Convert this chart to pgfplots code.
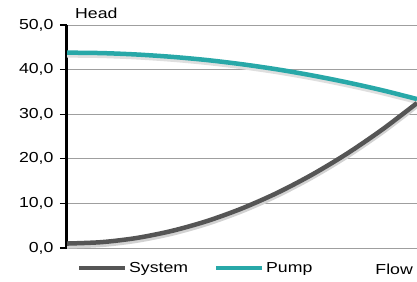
\documentclass[border=0pt]{standalone}
\usepackage{fontspec}
\setmainfont[FakeStretch=1.22]{Liberation Sans}
\usepackage{pgfplots}
\pgfplotsset{compat=1.18}
\definecolor{sysc}{RGB}{85,85,85}
\definecolor{pumpc}{RGB}{40,168,168}
\newcommand{\cf}{\fontsize{14.5bp}{17bp}\selectfont}
\begin{document}
\begin{tikzpicture}
\useasboundingbox (-67bp,-34bp) rectangle (350bp,248bp);
\begin{axis}[
  at={(0,0)}, anchor=south west,
  scale only axis, width=350bp, height=223bp,
  xmin=0, xmax=100, ymin=0, ymax=50,
  axis lines*=left,
  x axis line style={draw=none},
  y axis line style={black, line width=1.6pt},
  ytick={0,10,20,30,40,50},
  xtick=\empty,
  tick align=outside,
  major tick length=7bp,
  ytick style={black, line width=1.2pt},
  ymajorgrids,
  grid style={gray!75, line width=0.8pt},
  yticklabel style={font=\cf, /pgf/number format/assume math mode=true, xshift=-3bp},
  /pgf/number format/.cd, fixed, fixed zerofill, precision=1, use comma,
  /pgfplots/.cd,
  clip=false,
  legend columns=2,
  legend style={draw=none, fill=none, font=\cf, at={(rel axis cs:0.0,0)}, anchor=north west, yshift=-10bp, xshift=7bp,
    /tikz/every even column/.append style={column sep=24bp}},
  legend image code/.code={\draw[#1, line width=4bp] (0bp,0bp) -- (46bp,0bp);},
]
\addplot[gray!35, line width=5bp, forget plot, yshift=-2.5bp, smooth] coordinates {
(0,1.0) (10,1.32) (20,2.26) (30,3.84) (40,6.04) (50,8.88) (60,12.34) (70,16.44) (80,21.16) (90,26.52) (100,32.5)};
\addplot[gray!25, line width=5bp, forget plot, yshift=-2.5bp, smooth] coordinates {
(0,43.8) (10,43.7) (20,43.38) (30,42.86) (40,42.14) (50,41.2) (60,40.06) (70,38.7) (80,37.14) (90,35.38) (100,33.4)};
\addplot[sysc, line width=4.5bp, smooth] coordinates {
(0,1.0) (10,1.32) (20,2.26) (30,3.84) (40,6.04) (50,8.88) (60,12.34) (70,16.44) (80,21.16) (90,26.52) (100,32.5)};
\addlegendentry{System}
\addplot[pumpc, line width=4.5bp, smooth] coordinates {
(0,43.8) (10,43.7) (20,43.38) (30,42.86) (40,42.14) (50,41.2) (60,40.06) (70,38.7) (80,37.14) (90,35.38) (100,33.4)};
\addlegendentry{Pump}
\draw[black, line width=1.6pt] ([xshift=-0.8bp, yshift=-1bp]rel axis cs:0,0) -- ([xshift=-0.8bp]rel axis cs:0,1);
\node[font=\cf, anchor=base west, inner sep=0pt] at ([xshift=8bp, yshift=7bp]rel axis cs:0,1) {Head};
\node[font=\cf, anchor=base east, inner sep=0pt] at ([xshift=-4bp, yshift=-26bp]rel axis cs:1,0) {Flow};
\end{axis}
\end{tikzpicture}
\end{document}
